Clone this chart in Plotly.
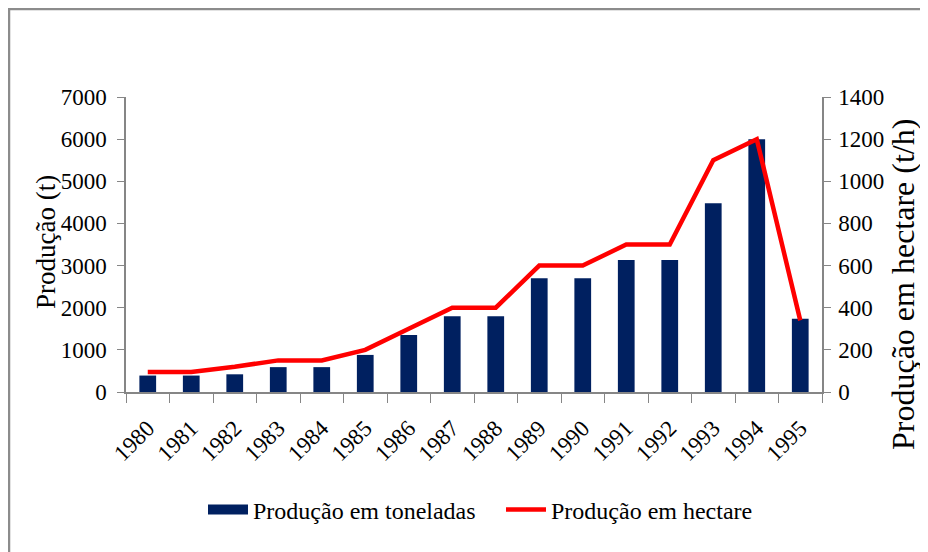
import plotly.graph_objects as go

years = ["1980", "1981", "1982", "1983", "1984", "1985", "1986", "1987",
         "1988", "1989", "1990", "1991", "1992", "1993", "1994", "1995"]
producao_toneladas = [390, 390, 420, 590, 590, 880, 1350, 1800,
                      1800, 2700, 2700, 3130, 3130, 4480, 6000, 1740]
producao_hectare = [95, 95, 120, 150, 150, 200, 300, 400,
                    400, 600, 600, 700, 700, 1100, 1200, 340]
left_ticks = [0, 1000, 2000, 3000, 4000, 5000, 6000, 7000]
right_ticks = [0, 200, 400, 600, 800, 1000, 1200, 1400]

# page offset of the figure (default body margin)
OFF = 8
W, H = 928 - OFF, 552 - OFF
# plot-area edges in page pixels
L, R, T, B = 126, 822, 97, 392

FONT = "Liberation Serif"
AXC = "#868686"
NAVY = "#002060"

fig = go.Figure()
fig.add_trace(go.Bar(
    x=years, y=producao_toneladas, name="Produção em toneladas",
    marker=dict(color=NAVY, line=dict(width=0)), width=0.385,
    yaxis="y", showlegend=False))
# legend swatch for the bars (wide rectangle like the original)
fig.add_trace(go.Scatter(
    x=[None], y=[None], name="Produção em toneladas", mode="lines",
    line=dict(color=NAVY, width=14), yaxis="y", showlegend=True))
fig.add_trace(go.Scatter(
    x=years, y=producao_hectare, name="Produção em hectare",
    mode="lines", line=dict(color="#ff0000", width=4.5),
    yaxis="y2"))


def px_x(p):
    return (p - L) / (R - L)


def px_y(p):
    return (B - p) / (B - T)


fig.update_layout(
    width=W, height=H,
    margin=dict(l=L - OFF, r=W - (R - OFF), t=T - OFF, b=H - (B - OFF)),
    paper_bgcolor="white", plot_bgcolor="white",
    font=dict(family=FONT, color="black", size=23),
    showlegend=True,
    legend=dict(orientation="h", x=px_x(203), xanchor="left",
                y=px_y(510), yanchor="middle",
                font=dict(family=FONT, size=24, color="black"),
                itemwidth=40, tracegroupgap=0,
                entrywidth=243, entrywidthmode="pixels"),
    xaxis=dict(
        type="category", showline=True, linecolor=AXC, linewidth=1.5,
        ticks="outside", tickson="boundaries", ticklen=9, tickcolor=AXC,
        tickangle=-45, tickfont=dict(family=FONT, size=23),
        ticklabelstandoff=12, showgrid=False, zeroline=False,
        range=[-0.5, 15.5],
    ),
    yaxis=dict(
        range=[0, 7000], tickvals=left_ticks, showline=True, linecolor=AXC,
        linewidth=1.5, ticks="outside", ticklen=7, tickcolor=AXC,
        tickfont=dict(family=FONT, size=23), showgrid=False,
        zeroline=False, ticklabelstandoff=6,
    ),
    yaxis2=dict(
        range=[0, 1400], tickvals=right_ticks, overlaying="y", side="right",
        showline=True, linecolor=AXC, linewidth=1.5, ticks="outside",
        ticklen=7, tickcolor=AXC, tickfont=dict(family=FONT, size=23),
        showgrid=False, zeroline=False, ticklabelstandoff=3,
    ),
    annotations=[
        dict(text="Produção (t)", xref="paper", yref="paper",
             x=px_x(46), y=px_y(242), xanchor="center", yanchor="middle",
             textangle=-90, showarrow=False,
             font=dict(family=FONT, size=27, color="black")),
        dict(text="Produção em hectare (t/h)", xref="paper", yref="paper",
             x=px_x(903), y=px_y(285), xanchor="center", yanchor="middle",
             textangle=-90, showarrow=False,
             font=dict(family=FONT, size=32, color="black")),
    ],
    shapes=[
        dict(type="rect", xref="paper", yref="paper",
             x0=px_x(OFF + 1), x1=px_x(960), y0=px_y(580), y1=px_y(OFF + 1),
             line=dict(color="#8c8c8c", width=2.5), fillcolor="rgba(0,0,0,0)",
             layer="below"),
    ],
)

fig.write_html("out.html")
